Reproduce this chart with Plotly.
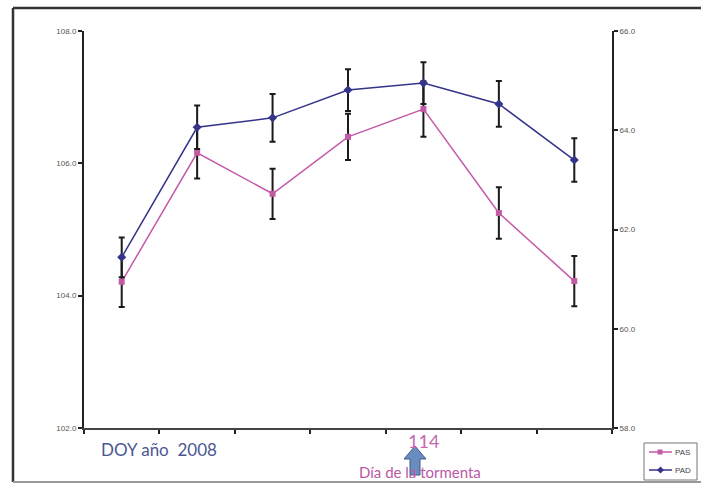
import plotly.graph_objects as go

# Day of year (2008) for each measurement
doy = [110, 111, 112, 113, 114, 115, 116]

# Systolic (PAS, left axis) and diastolic (PAD, right axis) pressure
pas = [104.21, 106.16, 105.54, 106.40, 106.82, 105.25, 104.22]
pas_err = [0.38, 0.39, 0.38, 0.35, 0.42, 0.39, 0.38]
pad = [61.44, 64.06, 64.25, 64.81, 64.95, 64.53, 63.40]
pad_err = [0.40, 0.44, 0.48, 0.42, 0.42, 0.46, 0.44]

left_ticks = [102, 104, 106, 108]
right_ticks = [58, 60, 62, 64, 66]

W, H = 701, 485


def px(x):
    return x / W


def py(y):
    return 1 - y / H


PINK = "#c45aa6"
NAVY = "#34348a"

fig = go.Figure()

fig.add_trace(go.Scatter(
    x=doy, y=pas, name="PAS", mode="lines+markers",
    line=dict(color=PINK, width=1.5),
    marker=dict(symbol="square", size=6, color=PINK),
    error_y=dict(type="data", array=pas_err, color="#1a1a1a", thickness=2, width=3),
    yaxis="y", showlegend=False,
))
fig.add_trace(go.Scatter(
    x=doy, y=pad, name="PAD", mode="lines+markers",
    line=dict(color=NAVY, width=1.5),
    marker=dict(symbol="diamond", size=7, color=NAVY),
    error_y=dict(type="data", array=pad_err, color="#1a1a1a", thickness=2, width=3),
    yaxis="y2", showlegend=False,
))

# category boundaries on the x axis
x_bounds = [d - 0.5 for d in doy] + [doy[-1] + 0.5]

tickfont = dict(family="Liberation Sans, Arial", size=8, color="#555555")

fig.update_layout(
    width=W, height=H,
    margin=dict(l=0, r=0, t=0, b=0, autoexpand=False),
    paper_bgcolor="white", plot_bgcolor="white",
    xaxis=dict(
        domain=[px(84), px(612)],
        range=[x_bounds[0], x_bounds[-1]],
        tickvals=x_bounds, showticklabels=False,
        ticks="outside", ticklen=4, tickwidth=2, tickcolor="#222",
        showline=True, linecolor="#444", linewidth=1.5,
        showgrid=False, zeroline=False, automargin=False,
    ),
    yaxis=dict(
        domain=[py(428), py(31)],
        range=[102, 108], tickvals=left_ticks, tickformat=".1f",
        ticks="outside", ticklen=4, tickwidth=2, tickcolor="#222",
        showline=True, linecolor="#222", linewidth=2,
        showgrid=False, zeroline=False, tickfont=tickfont,
        anchor="x", automargin=False,
    ),
    yaxis2=dict(
        overlaying="y", side="right", anchor="x",
        range=[58, 66], tickvals=right_ticks, tickformat=".1f",
        ticks="outside", ticklen=4, tickwidth=2, tickcolor="#222",
        showline=True, linecolor="#222", linewidth=2,
        showgrid=False, zeroline=False, tickfont=tickfont,
        automargin=False,
    ),
)

# outer frame
fig.add_shape(type="line", xref="paper", yref="paper",
              x0=px(13), x1=1, y0=py(8), y1=py(8),
              line=dict(color="#333", width=2.5))
fig.add_shape(type="line", xref="paper", yref="paper",
              x0=px(13), x1=px(13), y0=py(8), y1=py(482),
              line=dict(color="#333", width=2.5))
fig.add_shape(type="line", xref="paper", yref="paper",
              x0=px(13), x1=1, y0=py(482), y1=py(482),
              line=dict(color="#999", width=2))

# compact legend box in the lower-right corner
fig.add_shape(type="rect", xref="paper", yref="paper",
              x0=px(644), x1=px(697), y0=py(443), y1=py(480),
              line=dict(color="#777", width=1), fillcolor="white")
legend_items = [("PAS", PINK, "square", 452), ("PAD", NAVY, "diamond", 470)]
for label, col, sym, ly in legend_items:
    fig.add_shape(type="line", xref="paper", yref="paper",
                  x0=px(649), x1=px(672), y0=py(ly), y1=py(ly),
                  line=dict(color=col, width=1.5))
    if sym == "square":
        fig.add_shape(type="rect", xref="paper", yref="paper",
                      x0=px(657.5), x1=px(662.5), y0=py(ly - 2.5), y1=py(ly + 2.5),
                      line=dict(color=col, width=0), fillcolor=col)
    else:
        d = [(660.5, ly - 3.5), (664, ly), (660.5, ly + 3.5), (657, ly)]
        p = "M " + " L ".join(f"{px(a)},{py(b)}" for a, b in d) + " Z"
        fig.add_shape(type="path", xref="paper", yref="paper", path=p,
                      line=dict(color=col, width=0), fillcolor=col)
    fig.add_annotation(x=px(673), y=py(ly), xref="paper", yref="paper",
                       text=label, showarrow=False, xanchor="left", yanchor="middle",
                       font=dict(family="Liberation Sans, Arial", size=8, color="#444"))

# up arrow marking the storm day
ax = [415, 404, 410, 410, 420, 420, 426]
ay = [446, 459, 459, 475, 475, 459, 459]
path = "M " + " L ".join(f"{px(a)},{py(b)}" for a, b in zip(ax, ay)) + " Z"
fig.add_shape(type="path", xref="paper", yref="paper", path=path,
              fillcolor="#6b8cc0", line=dict(color="#3e5a8a", width=1),
              layer="below")

fig.add_annotation(x=px(99), y=py(449), xref="paper", yref="paper",
                   text="DOY año  2008", showarrow=False,
                   xanchor="left", yanchor="middle",
                   font=dict(family="Lato, Liberation Sans", size=17, color="#4b5794"))
fig.add_annotation(x=114, y=py(441), xref="x", yref="paper",
                   text="114", showarrow=False,
                   xanchor="center", yanchor="middle",
                   font=dict(family="Lato, Liberation Sans", size=18, color="#c767b0"))
fig.add_annotation(x=px(420), y=py(472), xref="paper", yref="paper",
                   text="Día de la tormenta", showarrow=False,
                   xanchor="center", yanchor="middle",
                   font=dict(family="Lato, Liberation Sans", size=15, color="#b958a5"))

fig.write_html("out.html")
